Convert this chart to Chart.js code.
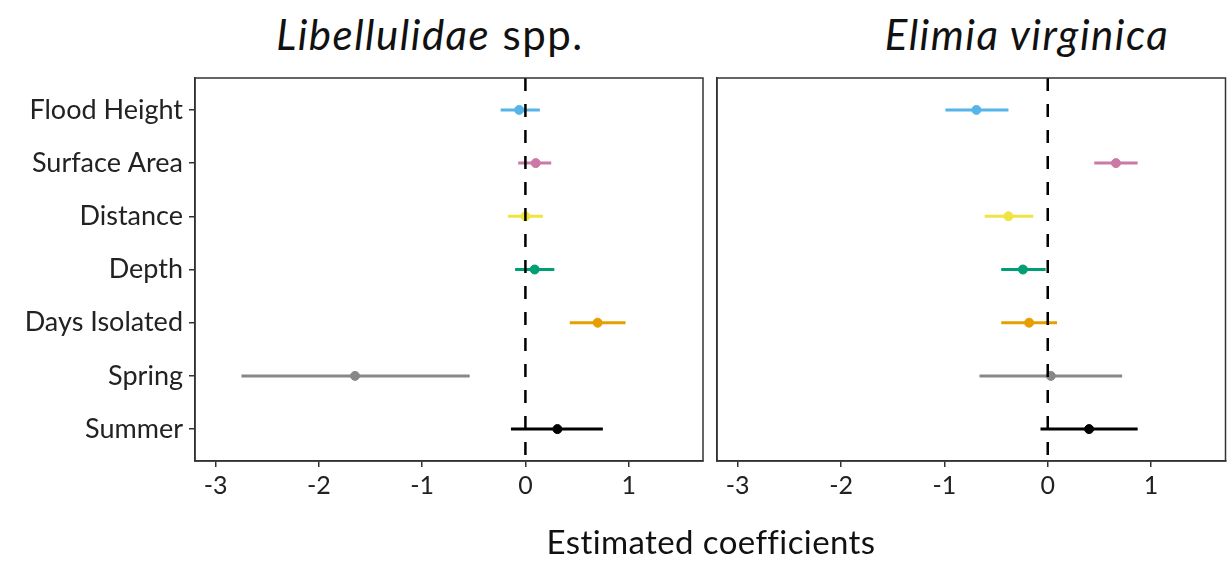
<!DOCTYPE html>
<html>
<head>
<meta charset="utf-8">
<script src="https://cdn.jsdelivr.net/npm/chart.js@4"></script>
<style>
  body { margin: 0; background: #fff; font-family: Lato, sans-serif; }
  #page { position: relative; width: 1228px; height: 565px; overflow: hidden; }
  .box { position: absolute; }
  .title { position: absolute; width: 600px; text-align: center; font-size: 42px; line-height: 42px; color: #111; letter-spacing: 1.5px; }
  .xlabel { position: absolute; width: 600px; text-align: center; font-size: 33px; line-height: 33px; color: #111; letter-spacing: 0.4px; }
</style>
</head>
<body>
<div id="page">
  <div class="title" style="left:130px; top:13px;"><i>Libellulidae</i> spp.</div>
  <div class="title" style="left:727px; top:13px;"><i>Elimia virginica</i></div>
  <div class="box" style="left:0; top:70px; width:710px; height:460px;"><canvas id="left"></canvas></div>
  <div class="box" style="left:710px; top:70px; width:521px; height:460px;"><canvas id="right"></canvas></div>
  <div class="xlabel" style="left:411px; top:525px;">Estimated coefficients</div>
</div>
<script>
const categories = ['Flood Height', 'Surface Area', 'Distance', 'Depth', 'Days Isolated', 'Spring', 'Summer'];
const colors = ['#56B4E9', '#CC79A7', '#F0E442', '#009E73', '#E69F00', '#888888', '#000000'];
const xTicks = [-3, -2, -1, 0, 1];

// Libellulidae spp.
const libEst = [-0.06, 0.10, 0.00, 0.09, 0.70, -1.65, 0.31];
const libLo = [-0.24, -0.07, -0.17, -0.10, 0.43, -2.75, -0.14];
const libHi = [0.14, 0.25, 0.17, 0.28, 0.97, -0.54, 0.75];

// Elimia virginica
const eliEst = [-0.69, 0.66, -0.38, -0.24, -0.18, 0.03, 0.40];
const eliLo = [-0.99, 0.45, -0.61, -0.45, -0.45, -0.66, -0.07];
const eliHi = [-0.38, 0.87, -0.14, -0.02, 0.09, 0.72, 0.87];

const font = 'Lato, sans-serif';
const axisColor = '#333333';

// full box round the plot area
const frame = {
  id: 'frame',
  afterDraw(chart) {
    const a = chart.chartArea;
    const c = chart.ctx;
    c.save();
    c.strokeStyle = axisColor;
    c.lineWidth = 1.5;
    c.strokeRect(a.left, a.top, a.right - a.left, a.bottom - a.top);
    c.restore();
  }
};

const makeChart = (id, est, lo, hi, showLabels, yWidth, rightPad) => {
  const datasets = [{
    data: [{ x: 0, y: -0.6 }, { x: 0, y: 6.6 }],
    showLine: true,
    borderColor: '#000',
    borderWidth: 2.5,
    borderDash: [13, 13],
    pointRadius: 0
  }];
  categories.forEach((cat, i) => {
    datasets.push({
      data: [{ x: lo[i], y: i }, { x: hi[i], y: i }],
      showLine: true,
      borderColor: colors[i],
      borderWidth: 3,
      pointRadius: 0
    });
  });
  datasets.push({
    data: est.map((v, i) => ({ x: v, y: i })),
    pointBackgroundColor: colors,
    pointBorderColor: colors,
    pointRadius: 4.5,
    showLine: false
  });

  return new Chart(document.getElementById(id), {
    type: 'scatter',
    data: { datasets: datasets },
    options: {
      responsive: true,
      maintainAspectRatio: false,
      animation: false,
      layout: { padding: { top: 8, right: rightPad, left: 0, bottom: 0 } },
      plugins: { legend: { display: false }, tooltip: { enabled: false } },
      scales: {
        x: {
          type: 'linear',
          min: -3.2,
          max: 1.72,
          afterBuildTicks: (s) => { s.ticks = xTicks.map(v => ({ value: v })); },
          afterFit: (s) => { s.height = 69; s.paddingLeft = 0; s.paddingRight = 0; },
          grid: { drawOnChartArea: false, drawTicks: true, tickLength: 6, color: axisColor, lineWidth: 1.5 },
          border: { display: true, color: axisColor, width: 1.5 },
          ticks: { color: '#222', font: { family: font, size: 25 }, padding: 4, maxRotation: 0 }
        },
        y: {
          type: 'linear',
          min: -0.6,
          max: 6.6,
          reverse: true,
          afterBuildTicks: (s) => { s.ticks = categories.map((c, i) => ({ value: i })); },
          afterFit: (s) => { s.width = yWidth; s.paddingTop = 0; s.paddingBottom = 0; },
          grid: { drawOnChartArea: false, drawTicks: showLabels, tickLength: 6, color: axisColor, lineWidth: 1.5 },
          border: { display: true, color: axisColor, width: 1.5 },
          ticks: {
            display: showLabels,
            color: '#222',
            font: { family: font, size: 27 },
            padding: 6,
            callback: (v) => categories[v]
          }
        }
      }
    },
    plugins: [frame]
  });
};

makeChart('left', libEst, libLo, libHi, true, 195, 7);
makeChart('right', eliEst, eliLo, eliHi, false, 7, 2);
</script>
</body>
</html>
